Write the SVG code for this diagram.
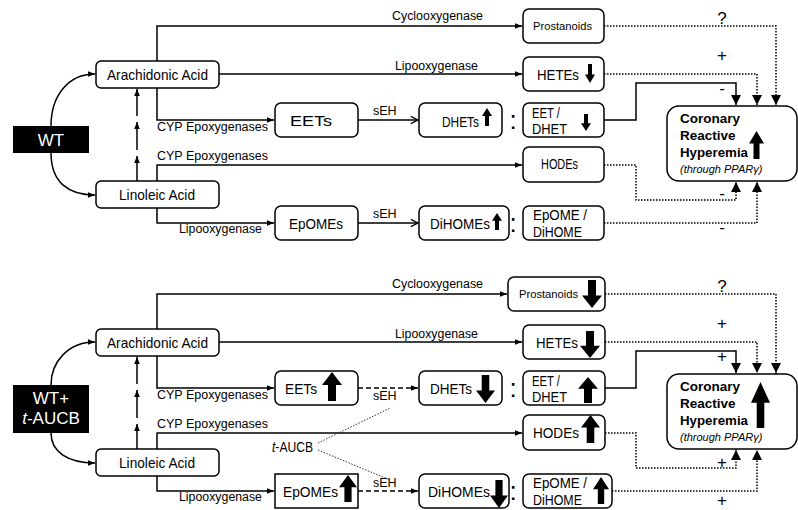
<svg xmlns="http://www.w3.org/2000/svg" xmlns:xlink="http://www.w3.org/1999/xlink" width="798" height="510" viewBox="0 0 798 510">
<style>
text{font-family:"Liberation Sans",Arial,sans-serif;fill:#000}
.box{fill:#fff;stroke:#000;stroke-width:1.5}
.enz{font-size:12.5px}
.nm{font-size:15px}
.sm{font-size:11px}
.big{font-size:13.5px;font-weight:bold}
.ln{fill:none;stroke:#000;stroke-width:1.5}
.dot{fill:none;stroke:#000;stroke-width:1.5;stroke-dasharray:1.5 1.5}
.dash{fill:none;stroke:#000;stroke-width:1.5;stroke-dasharray:5 3}
.thin{fill:none;stroke:#333;stroke-width:1;stroke-dasharray:1.5 1.5}
.sign{font-size:17px;text-anchor:middle}
.col{font-size:26px;text-anchor:middle}
</style>
<defs>
<marker id="ah" viewBox="0 0 10 10" refX="10" refY="5" markerWidth="7" markerHeight="7" markerUnits="userSpaceOnUse" orient="auto"><path d="M0,1 L10,5 L0,9 z"/></marker>
<marker id="ahb" viewBox="0 0 10 10" refX="10" refY="5" markerWidth="10" markerHeight="10" markerUnits="userSpaceOnUse" orient="auto"><path d="M0,0 L10,5 L0,10 z"/></marker>
<marker id="chev" viewBox="0 0 10 10" refX="9" refY="5" markerWidth="9" markerHeight="9" markerUnits="userSpaceOnUse" orient="auto"><path d="M1,1 L9,5 L1,9" fill="none" stroke="#000" stroke-width="1.5"/></marker>
<path id="ua" d="M0.3,1 V0.45 H0 L0.5,0 L1,0.45 H0.7 V1 Z"/>
<path id="da" d="M0.3,0 V0.55 H0 L0.5,1 L1,0.55 H0.7 V0 Z"/>
</defs>
<rect width="798" height="510" fill="#fff"/>

<g id="connectors">
<!-- top half -->
<path class="ln" d="M51,126 C51,96 68,74 95,74" marker-end="url(#ah)"/>
<path class="ln" d="M51,153 C51,182 68,195 95,195" marker-end="url(#ah)"/>
<path class="ln" d="M137,181 V156" marker-end="url(#ah)"/>
<path class="ln" d="M137,150 V122" marker-end="url(#ah)"/>
<path class="ln" d="M137,116 V89" marker-end="url(#ah)"/>
<path class="ln" d="M157,61 V26 H522" marker-end="url(#ah)"/>
<path class="ln" d="M219,74 H522" marker-end="url(#ah)"/>
<path class="ln" d="M157,88 V120 H274" marker-end="url(#ah)"/>
<path class="ln" d="M358,120 H418" marker-end="url(#chev)"/>
<path class="ln" d="M157,181 V165 H522" marker-end="url(#ah)"/>
<path class="ln" d="M157,208 V223 H274" marker-end="url(#ah)"/>
<path class="ln" d="M358,223 H418" marker-end="url(#chev)"/>
<path class="dot" d="M604,26 H776 V105" marker-end="url(#ahb)"/>
<path class="dot" d="M604,74 H757 V105" marker-end="url(#ahb)"/>
<path class="ln" d="M604,120 H636 V83 H736 V105" marker-end="url(#ahb)"/>
<path class="dot" d="M604,165 H636 V200 H736 V182" marker-end="url(#ahb)"/>
<path class="dot" d="M604,223 H757 V182" marker-end="url(#ahb)"/>
<!-- bottom half -->
<path class="ln" d="M51,385 C51,362 68,342 95,342" marker-end="url(#ah)"/>
<path class="ln" d="M51,433 C51,452 68,463 95,463" marker-end="url(#ah)"/>
<path class="ln" d="M137,449 V424" marker-end="url(#ah)"/>
<path class="ln" d="M137,418 V390" marker-end="url(#ah)"/>
<path class="ln" d="M137,384 V357" marker-end="url(#ah)"/>
<path class="ln" d="M157,329 V294 H507" marker-end="url(#ah)"/>
<path class="ln" d="M219,342 H522" marker-end="url(#ah)"/>
<path class="ln" d="M157,356 V388 H274" marker-end="url(#ah)"/>
<path class="dash" d="M358,388 H418" marker-end="url(#ah)"/>
<path class="ln" d="M157,449 V433 H522" marker-end="url(#ah)"/>
<path class="ln" d="M157,476 V491 H274" marker-end="url(#ah)"/>
<path class="dash" d="M358,491 H418" marker-end="url(#ah)"/>
<path class="thin" d="M318,443 L390,408"/>
<path class="thin" d="M318,450 L390,480"/>
<path class="dot" d="M605,294 H776 V373" marker-end="url(#ahb)"/>
<path class="dot" d="M605,342 H757 V373" marker-end="url(#ahb)"/>
<path class="ln" d="M605,388 H636 V351 H736 V373" marker-end="url(#ahb)"/>
<path class="dot" d="M605,433 H636 V468 H736 V450" marker-end="url(#ahb)"/>
<path class="dot" d="M612,491 H757 V450" marker-end="url(#ahb)"/>
</g>

<g id="labels">
<text class="enz" x="392" y="20" textLength="91" lengthAdjust="spacingAndGlyphs">Cyclooxygenase</text>
<text class="enz" x="395" y="70" textLength="83" lengthAdjust="spacingAndGlyphs">Lipooxygenase</text>
<text class="enz" x="157" y="131" textLength="111" lengthAdjust="spacingAndGlyphs">CYP Epoxygenases</text>
<text class="enz" x="157" y="160" textLength="111" lengthAdjust="spacingAndGlyphs">CYP Epoxygenases</text>
<text class="enz" x="179" y="233" textLength="83" lengthAdjust="spacingAndGlyphs">Lipooxygenase</text>
<text class="enz" x="373" y="115">sEH</text>
<text class="enz" x="373" y="218">sEH</text>
<text class="col" x="513" y="129">:</text>
<text class="col" x="513" y="232">:</text>
<text class="sign" x="722" y="24">?</text>
<text class="sign" x="722" y="61">+</text>
<text class="sign" x="722" y="94">-</text>
<text class="sign" x="722" y="199">-</text>
<text class="sign" x="722" y="233">-</text>

<text class="enz" x="392" y="288" textLength="91" lengthAdjust="spacingAndGlyphs">Cyclooxygenase</text>
<text class="enz" x="395" y="338" textLength="83" lengthAdjust="spacingAndGlyphs">Lipooxygenase</text>
<text class="enz" x="157" y="399" textLength="111" lengthAdjust="spacingAndGlyphs">CYP Epoxygenases</text>
<text class="enz" x="157" y="428" textLength="111" lengthAdjust="spacingAndGlyphs">CYP Epoxygenases</text>
<text class="enz" x="179" y="501" textLength="83" lengthAdjust="spacingAndGlyphs">Lipooxygenase</text>
<text class="enz" x="373" y="400">sEH</text>
<text class="enz" x="373" y="487">sEH</text>
<text style="font-size:14px" x="272" y="452" textLength="41" lengthAdjust="spacingAndGlyphs"><tspan font-style="italic">t</tspan>-AUCB</text>
<text class="col" x="513" y="397">:</text>
<text class="col" x="513" y="500">:</text>
<text class="sign" x="722" y="292">?</text>
<text class="sign" x="722" y="329">+</text>
<text class="sign" x="722" y="362">+</text>
<text class="sign" x="722" y="468">+</text>
<text class="sign" x="722" y="506">+</text>
</g>

<!-- top half nodes -->
<g id="wt">
<rect x="13" y="126" width="76" height="27" fill="#000"/>
<text x="51" y="146" style="font-size:17px;fill:#fff" text-anchor="middle">WT</text>
</g>
<g id="aa1">
<rect class="box" x="96" y="61" width="123" height="27" rx="5"/>
<text class="nm" x="107" y="80" textLength="101" lengthAdjust="spacingAndGlyphs">Arachidonic Acid</text>
</g>
<g id="la1">
<rect class="box" x="96" y="181" width="123" height="27" rx="5"/>
<text class="nm" x="119" y="200" textLength="76" lengthAdjust="spacingAndGlyphs">Linoleic Acid</text>
</g>
<g id="prost1">
<rect class="box" x="523" y="9" width="81" height="34" rx="6"/>
<text class="sm" x="533" y="30" textLength="59" lengthAdjust="spacingAndGlyphs">Prostanoids</text>
</g>
<g id="hete1">
<rect class="box" x="523" y="57" width="81" height="34" rx="6"/>
<text class="nm" x="537" y="80" textLength="42" lengthAdjust="spacingAndGlyphs">HETEs</text>
<use href="#da" transform="translate(585,64) scale(10,19)"/>
</g>
<g id="eet1">
<rect class="box" x="275" y="103" width="83" height="34" rx="6"/>
<text class="nm" x="290" y="126" textLength="42" lengthAdjust="spacingAndGlyphs">EETs</text>
</g>
<g id="dhet1">
<rect class="box" x="419" y="103" width="83" height="34" rx="6"/>
<text class="nm" x="442" y="127" textLength="37" lengthAdjust="spacingAndGlyphs">DHETs</text>
<use href="#ua" transform="translate(482,108) scale(10,18)"/>
</g>
<g id="ratio1">
<rect class="box" x="523" y="103" width="81" height="34" rx="6"/>
<text class="nm" style="font-size:14px" x="532" y="118" textLength="28" lengthAdjust="spacingAndGlyphs">EET /</text>
<text class="nm" style="font-size:14px" x="532" y="134" textLength="35" lengthAdjust="spacingAndGlyphs">DHET</text>
<use href="#da" transform="translate(581,114) scale(10,17)"/>
</g>
<g id="hode1">
<rect class="box" x="523" y="147" width="81" height="35" rx="6"/>
<text class="nm" x="541" y="169" textLength="37" lengthAdjust="spacingAndGlyphs">HODEs</text>
</g>
<g id="epome1">
<rect class="box" x="275" y="206" width="83" height="34" rx="6"/>
<text class="nm" x="289" y="229" textLength="54" lengthAdjust="spacingAndGlyphs">EpOMEs</text>
</g>
<g id="dihome1">
<rect class="box" x="419" y="206" width="90" height="34" rx="6"/>
<text class="nm" x="430" y="229" textLength="60" lengthAdjust="spacingAndGlyphs">DiHOMEs</text>
<use href="#ua" transform="translate(492,213) scale(10,17)"/>
</g>
<g id="ratio2">
<rect class="box" x="523" y="206" width="81" height="34" rx="6"/>
<text class="nm" style="font-size:14px" x="533" y="220" textLength="54" lengthAdjust="spacingAndGlyphs">EpOME /</text>
<text class="nm" style="font-size:14px" x="533" y="237" textLength="49" lengthAdjust="spacingAndGlyphs">DiHOME</text>
</g>
<g id="crh1">
<rect class="box" x="667" y="106" width="130" height="75" rx="12"/>
<text class="big" x="680" y="123">Coronary</text>
<text class="big" x="680" y="140">Reactive</text>
<text class="big" x="680" y="157" textLength="68" lengthAdjust="spacingAndGlyphs">Hyperemia</text>
<text class="sm" x="680" y="173" font-style="italic" fill="#333">(through PPAR<tspan>γ</tspan>)</text>
<use href="#ua" transform="translate(749,131) scale(15,28)"/>
</g>

<!-- bottom half nodes -->
<g id="wt2">
<rect x="13" y="385" width="76" height="48" fill="#000"/>
<text x="51" y="404" style="font-size:17px;fill:#fff" text-anchor="middle">WT+</text>
<text x="51" y="424" style="font-size:17px;fill:#fff" text-anchor="middle"><tspan font-style="italic">t</tspan>-AUCB</text>
</g>
<g id="aa2">
<rect class="box" x="96" y="329" width="123" height="27" rx="5"/>
<text class="nm" x="107" y="348" textLength="101" lengthAdjust="spacingAndGlyphs">Arachidonic Acid</text>
</g>
<g id="la2">
<rect class="box" x="96" y="449" width="123" height="27" rx="5"/>
<text class="nm" x="119" y="468" textLength="76" lengthAdjust="spacingAndGlyphs">Linoleic Acid</text>
</g>
<g id="prost2">
<rect class="box" x="508" y="277" width="97" height="34" rx="6"/>
<text class="sm" x="519" y="298" textLength="59" lengthAdjust="spacingAndGlyphs">Prostanoids</text>
<use href="#da" transform="translate(582,280) scale(20,28)"/>
</g>
<g id="hete2">
<rect class="box" x="523" y="325" width="82" height="34" rx="6"/>
<text class="nm" x="536" y="348" textLength="42" lengthAdjust="spacingAndGlyphs">HETEs</text>
<use href="#da" transform="translate(580,331) scale(20,27)"/>
</g>
<g id="eet2">
<rect class="box" x="275" y="371" width="83" height="34" rx="6"/>
<text class="nm" x="285" y="394" textLength="32" lengthAdjust="spacingAndGlyphs">EETs</text>
<use href="#ua" transform="translate(322,372) scale(20,29)"/>
</g>
<g id="dhet2">
<rect class="box" x="419" y="371" width="83" height="34" rx="6"/>
<text class="nm" x="430" y="394" textLength="42" lengthAdjust="spacingAndGlyphs">DHETs</text>
<use href="#da" transform="translate(476,375) scale(19,28)"/>
</g>
<g id="ratio3">
<rect class="box" x="523" y="371" width="82" height="34" rx="6"/>
<text class="nm" style="font-size:14px" x="532" y="386" textLength="28" lengthAdjust="spacingAndGlyphs">EET /</text>
<text class="nm" style="font-size:14px" x="532" y="402" textLength="35" lengthAdjust="spacingAndGlyphs">DHET</text>
<use href="#ua" transform="translate(578,377) scale(20,26)"/>
</g>
<g id="hode2">
<rect class="box" x="523" y="415" width="82" height="35" rx="6"/>
<text class="nm" x="533" y="438" textLength="46" lengthAdjust="spacingAndGlyphs">HODEs</text>
<use href="#ua" transform="translate(581,415) scale(19,28)"/>
</g>
<g id="epome2">
<rect class="box" x="275" y="474" width="83" height="34"/>
<text class="nm" x="283" y="497" textLength="55" lengthAdjust="spacingAndGlyphs">EpOMEs</text>
<use href="#ua" transform="translate(339,475) scale(18,27)"/>
</g>
<g id="dihome2">
<rect class="box" x="419" y="474" width="90" height="34" rx="6"/>
<text class="nm" x="428" y="497" textLength="62" lengthAdjust="spacingAndGlyphs">DiHOMEs</text>
<use href="#da" transform="translate(490,480) scale(18,28)"/>
</g>
<g id="ratio4">
<rect class="box" x="523" y="474" width="89" height="34" rx="6"/>
<text class="nm" style="font-size:14px" x="533" y="488" textLength="54" lengthAdjust="spacingAndGlyphs">EpOME /</text>
<text class="nm" style="font-size:14px" x="533" y="505" textLength="49" lengthAdjust="spacingAndGlyphs">DiHOME</text>
<use href="#ua" transform="translate(593,477) scale(16,27)"/>
</g>
<g id="crh2">
<rect class="box" x="667" y="374" width="130" height="75" rx="12"/>
<text class="big" x="680" y="391">Coronary</text>
<text class="big" x="680" y="408">Reactive</text>
<text class="big" x="680" y="425" textLength="68" lengthAdjust="spacingAndGlyphs">Hyperemia</text>
<text class="sm" x="680" y="441" font-style="italic" fill="#333">(through PPAR<tspan>γ</tspan>)</text>
<use href="#ua" transform="translate(751,382) scale(19,46)"/>
</g>
</svg>
